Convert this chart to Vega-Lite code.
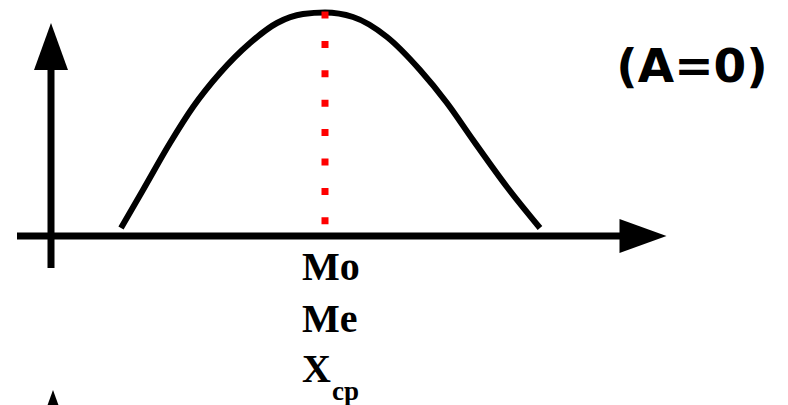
{
  "$schema": "https://vega.github.io/schema/vega-lite/v6.json",
  "width": 788,
  "height": 405,
  "autosize": {"type": "none"},
  "padding": 0,
  "background": "white",
  "config": {"view": {"stroke": null}},
  "datasets": {
    "curve": [
      {"x": 70, "y": 8}, {"x": 92, "y": 46}, {"x": 119, "y": 93}, {"x": 142, "y": 129},
      {"x": 169, "y": 163}, {"x": 199, "y": 193}, {"x": 226, "y": 213}, {"x": 252, "y": 222},
      {"x": 274, "y": 223.5}, {"x": 302, "y": 219}, {"x": 336, "y": 199}, {"x": 369, "y": 166},
      {"x": 396, "y": 133}, {"x": 422, "y": 96}, {"x": 456, "y": 49}, {"x": 489, "y": 8}
    ],
    "axes": [
      {"part": "horizontal", "x": -34, "x2": 569, "y": 0, "y2": 0},
      {"part": "vertical", "x": 0, "x2": 0, "y": -32, "y2": 166}
    ],
    "mode": [
      {"x": 274, "y": 224.5, "y2": 0}
    ],
    "arrowsUp": [
      {"x": 0, "y": 189.5},
      {"x": 2, "y": -177.5}
    ],
    "arrowsRight": [
      {"x": 592, "y": 0}
    ],
    "labels": [
      {"label": "Mo", "x": 251, "y": -44},
      {"label": "Me", "x": 251, "y": -96},
      {"label": "X", "x": 251, "y": -146}
    ],
    "sub": [
      {"label": "cp", "x": 281, "y": -164}
    ],
    "note": [
      {"label": "(A=0)", "x": 641, "y": 154}
    ]
  },
  "layer": [
    {
      "data": {"name": "curve"},
      "mark": {"type": "line", "interpolate": "monotone", "color": "black", "strokeWidth": 6, "strokeCap": "butt"},
      "encoding": {
        "x": {"field": "x", "type": "quantitative", "axis": null, "scale": {"domain": [-51, 737], "nice": false, "zero": false}},
        "y": {"field": "y", "type": "quantitative", "axis": null, "scale": {"domain": [-169, 236], "nice": false, "zero": false}}
      }
    },
    {
      "data": {"name": "mode"},
      "mark": {"type": "rule", "color": "#ff0000", "strokeWidth": 7, "strokeDash": [7, 22.4], "strokeCap": "butt"},
      "encoding": {
        "x": {"field": "x", "type": "quantitative"},
        "y": {"field": "y", "type": "quantitative"},
        "y2": {"field": "y2"}
      }
    },
    {
      "data": {"name": "axes"},
      "mark": {"type": "rule", "color": "black", "strokeWidth": 7, "strokeCap": "butt"},
      "encoding": {
        "x": {"field": "x", "type": "quantitative"},
        "x2": {"field": "x2"},
        "y": {"field": "y", "type": "quantitative"},
        "y2": {"field": "y2"}
      }
    },
    {
      "data": {"name": "arrowsUp"},
      "mark": {"type": "point", "shape": "M0,-1L0.723,1L-0.723,1Z", "filled": true, "color": "black", "opacity": 1, "size": 2209, "strokeWidth": 0},
      "encoding": {
        "x": {"field": "x", "type": "quantitative"},
        "y": {"field": "y", "type": "quantitative"}
      }
    },
    {
      "data": {"name": "arrowsRight"},
      "mark": {"type": "point", "shape": "M1,0L-1,-0.723L-1,0.723Z", "filled": true, "color": "black", "opacity": 1, "size": 2209, "strokeWidth": 0},
      "encoding": {
        "x": {"field": "x", "type": "quantitative"},
        "y": {"field": "y", "type": "quantitative"}
      }
    },
    {
      "data": {"name": "labels"},
      "mark": {"type": "text", "font": "Liberation Serif", "fontWeight": "bold", "fontSize": 40, "align": "left", "baseline": "alphabetic", "color": "black"},
      "encoding": {
        "x": {"field": "x", "type": "quantitative"},
        "y": {"field": "y", "type": "quantitative"},
        "text": {"field": "label"}
      }
    },
    {
      "data": {"name": "sub"},
      "mark": {"type": "text", "font": "Liberation Serif", "fontWeight": "bold", "fontSize": 27, "align": "left", "baseline": "alphabetic", "color": "black"},
      "encoding": {
        "x": {"field": "x", "type": "quantitative"},
        "y": {"field": "y", "type": "quantitative"},
        "text": {"field": "label"}
      }
    },
    {
      "data": {"name": "note"},
      "mark": {"type": "text", "font": "DejaVu Sans", "fontWeight": "bold", "fontSize": 47, "align": "center", "baseline": "alphabetic", "color": "black"},
      "encoding": {
        "x": {"field": "x", "type": "quantitative"},
        "y": {"field": "y", "type": "quantitative"},
        "text": {"field": "label"}
      }
    }
  ]
}
